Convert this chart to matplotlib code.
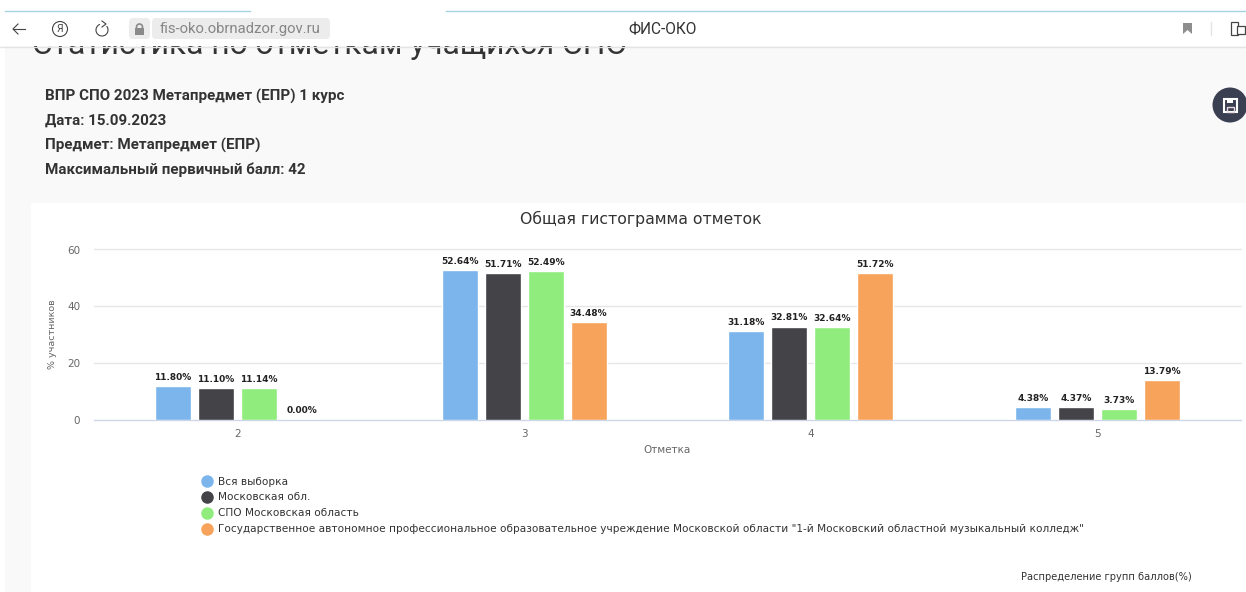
import matplotlib
matplotlib.use('Agg')
import matplotlib.pyplot as plt
from matplotlib.patches import Rectangle, Circle, FancyBboxPatch, Polygon, Arc
from matplotlib.lines import Line2D

# --- Daten ---
categories = ['2', '3', '4', '5']
series_names = [
    'Вся выборка',
    'Московская обл.',
    'СПО Московская область',
    'Государственное автономное профессиональное образовательное учреждение Московской области "1-й Московский областной музыкальный колледж"',
]
all_sample = [11.80, 52.64, 31.18, 4.38]
moscow_obl = [11.10, 51.71, 32.81, 4.37]
spo_moscow = [11.14, 52.49, 32.64, 3.73]
college = [0.00, 34.48, 51.72, 13.79]
series_values = [all_sample, moscow_obl, spo_moscow, college]
colors = ['#7cb5ec', '#434348', '#90ed7d', '#f7a35c']
yticks = [0, 20, 40, 60]
info_lines = [
    'ВПР СПО 2023 Метапредмет (ЕПР) 1 курс',
    'Дата: 15.09.2023',
    'Предмет: Метапредмет (ЕПР)',
    'Максимальный первичный балл: 42',
]

W, H = 1246, 592
fig = plt.figure(figsize=(W / 100, H / 100), dpi=100, facecolor='white')

# Hintergrund-Ebene in Pixelkoordinaten
bg = fig.add_axes([0, 0, 1, 1], zorder=0)
bg.set_xlim(0, W)
bg.set_ylim(H, 0)
bg.axis('off')
bg.add_patch(Rectangle((5, 46), W - 5, H - 46, fc='#f9f9f9', ec='none', zorder=1))
bg.add_patch(Rectangle((31, 203), W - 31, H - 203, fc='white', ec='none', zorder=2))

# abgeschnittene Überschrift
bg.text(32, 45, 'Статистика по отметкам учащихся СПО', fontsize=22.9, family='Roboto',
        color='#333333', va='center', zorder=3)

# Browserleiste
bg.add_patch(Rectangle((0, 0), W, 46, fc='white', ec='none', zorder=4))
bg.plot([5, 250], [10.5, 10.5], color='#a4d4e4', lw=1, zorder=5)
bg.plot([446, W], [10.5, 10.5], color='#a4d4e4', lw=1, zorder=5)
bg.plot([0, W], [46.5, 46.5], color='#e4e4e4', lw=1, zorder=5)
bg.add_patch(FancyBboxPatch((131, 20), 17, 17, boxstyle='round,pad=2,rounding_size=4',
                            fc='#ececec', ec='none', zorder=5))
bg.add_patch(FancyBboxPatch((155, 21), 172, 15, boxstyle='round,pad=3,rounding_size=4',
                            fc='#ececec', ec='none', zorder=5))
bg.add_patch(Rectangle((135, 28), 9, 7, fc='#8a8a8a', ec='none', zorder=6))
bg.add_patch(Circle((139.5, 27), 3, fc='none', ec='#8a8a8a', lw=1.2, zorder=6))
bg.text(160, 29, 'fis-oko.obrnadzor.gov.ru', fontsize=10.7, family='Roboto', color='#868686',
        va='center', zorder=6)
bg.text(663, 29.5, 'ФИС-ОКО', fontsize=11.2, family='Roboto', color='#333333', ha='center',
        va='center', zorder=6)
# Icons
bg.plot([13, 25], [29, 29], color='#444444', lw=0.8, zorder=6)
bg.plot([18, 13, 18], [24, 29, 34], color='#444444', lw=0.8, zorder=6)
bg.add_patch(Circle((60, 29), 7.5, fc='none', ec='#444444', lw=0.8, zorder=6))
bg.text(60, 29, 'Я', fontsize=7.5, family='Roboto', color='#444444', ha='center', va='center', zorder=6)
bg.add_patch(Arc((102, 30), 12, 12, theta1=-40, theta2=250, color='#444444', lw=0.8, zorder=6))
bg.plot([102, 106, 102], [21, 24, 27], color='#444444', lw=0.8, zorder=6)
bg.add_patch(Polygon([(1183, 23), (1192, 23), (1192, 34), (1187.5, 30), (1183, 34)],
                     fc='#8e8e8e', ec='none', zorder=6))
bg.plot([1210.5, 1210.5], [22, 35], color='#e4e4e4', lw=1, zorder=6)
bg.add_patch(Rectangle((1231, 22), 7, 13, fc='white', ec='#444444', lw=0.9, zorder=6))
bg.add_patch(Rectangle((1237, 26), 8, 8, fc='white', ec='#444444', lw=0.9, zorder=6))

# Kopfzeilen
for text_y, line in zip([96.5, 120.7, 145.3, 169.7], info_lines):
    bg.text(45, text_y, line, fontsize=10.93, family='Roboto', weight='bold', color='#333333',
            va='center', zorder=3)

# Speichern-Knopf
bg.add_patch(Circle((1230, 105), 17.5, fc='#3a3f52', ec='none', zorder=3))
bg.add_patch(Rectangle((1224, 99), 13, 13, fc='none', ec='white', lw=1.5, zorder=4))
bg.add_patch(Rectangle((1227, 99), 6, 4, fc='white', ec='none', zorder=4))
bg.add_patch(Rectangle((1227, 107), 7, 5, fc='none', ec='#e8d8e0', lw=1, zorder=4))

bg.text(641, 219, 'Общая гистограмма отметок', fontsize=11.3, color='#333333', ha='center',
        va='center', zorder=3)
bg.text(1106, 577, 'Распределение групп баллов(%)', fontsize=7.1, color='#333333', ha='center',
        va='center', zorder=3)

# --- Diagramm ---
ax = fig.add_axes([94 / W, 1 - 419.5 / H, (1241 - 94) / W, 170 / H], zorder=1)
ax.patch.set_alpha(0)
bar_width = 36 / 287
step = 43 / 287
x_pos = list(range(len(categories)))
for i, (vals, col) in enumerate(zip(series_values, colors)):
    xs = [x + (i - 1.5) * step for x in x_pos]
    ax.bar(xs, vals, width=bar_width, color=col, edgecolor='white', linewidth=1, zorder=3)
    for xv, v in zip(xs, vals):
        ax.annotate(f'{v:.2f}%', (xv, v), xytext=(0, 3), textcoords='offset points',
                    ha='center', va='bottom', fontsize=6.5, fontweight='bold', color='#222222', zorder=4)

ax.set_xlim(-0.5, 3.5)
ax.set_ylim(0, 60)
ax.set_xticks(x_pos)
ax.set_xticklabels(categories)
ax.set_yticks(yticks)
ax.tick_params(axis='both', length=0, labelsize=7.5, labelcolor='#666666')
ax.tick_params(axis='x', pad=6.5)
ax.tick_params(axis='y', pad=10)
ax.grid(axis='y', color='#e6e6e6', lw=1, zorder=0)
for gl in ax.get_ygridlines():
    gl.set_clip_on(False)
for side in ['top', 'right', 'left']:
    ax.spines[side].set_visible(False)
ax.spines['bottom'].set_color('#ccd6eb')
ax.set_axisbelow(True)
ax.set_xlabel('Отметка', fontsize=7.5, color='#666666', labelpad=4.5)
ax.set_ylabel('% участников', fontsize=6.8, color='#666666', labelpad=7)

handles = [Line2D([], [], marker='o', ls='none', ms=8, color=c) for c in colors]
fig.legend(handles, series_names, loc='upper left', bbox_to_anchor=(194 / W, 1 - 474.5 / H),
           bbox_transform=fig.transFigure, frameon=False, fontsize=7.53, labelcolor='#333333',
           labelspacing=0.56, handletextpad=0.1, borderaxespad=0, borderpad=0.2)

fig.savefig('out.png', dpi=100, facecolor=fig.get_facecolor())
